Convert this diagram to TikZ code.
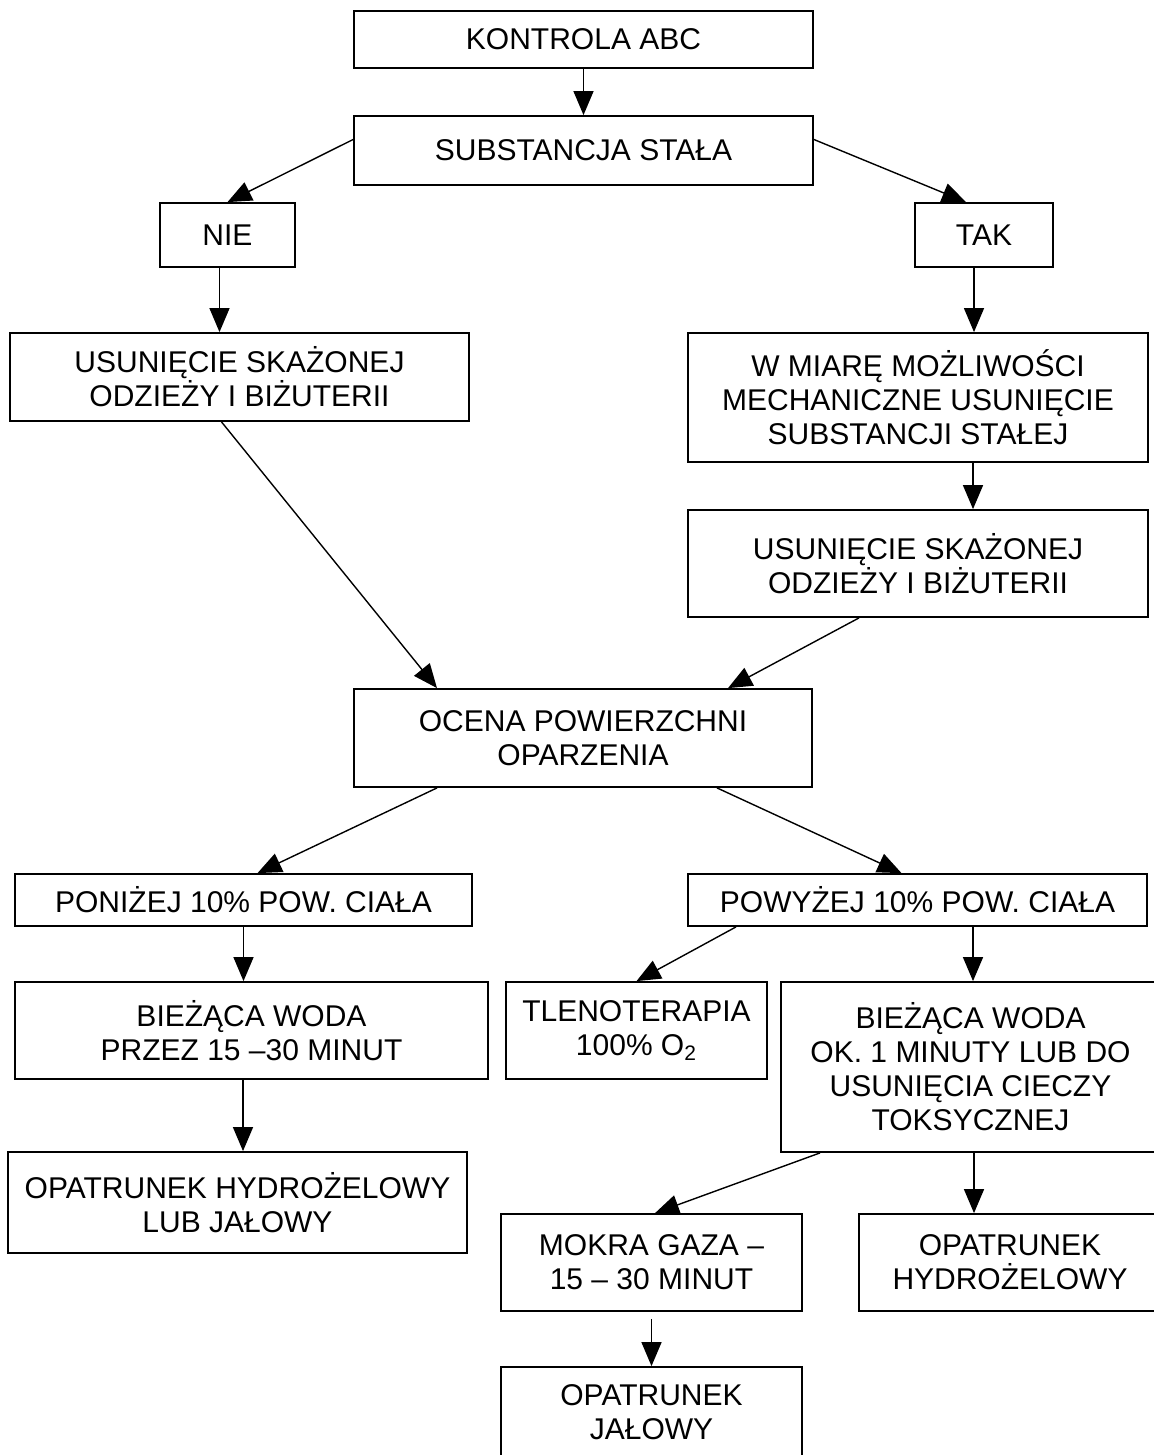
\documentclass[tikz,border=0pt]{standalone}
\usepackage{fontspec}
\setmainfont{Liberation Sans}
\usetikzlibrary{arrows.meta,calc}

\begin{document}
\begin{tikzpicture}[x=0.5pt, y=-0.5pt,
box/.style={rectangle, draw, line width=0.9pt, align=center, inner sep=2pt,
  font=\fontsize{15pt}{17pt}\selectfont},
arr/.style={line width=0.7pt, -{Triangle[length=12pt,width=10pt]}},
  %% every node/.style={box}
    ]
  \clip (0,0) rectangle (1154,1455);

  \node[box, minimum width=229.5pt, minimum height=28.5pt] (abc) at (583.5,39.5) {KONTROLA ABC};
  \node[box, minimum width=229.5pt, minimum height=34.5pt] (subst) at (583.5,150.5) {SUBSTANCJA STAŁA};
  \node[box, minimum width=67.5pt, minimum height=32pt] (nie) at (227.5,235) {NIE};
  \node[box, minimum width=69pt, minimum height=32pt] (tak) at (984,235) {TAK};
  \node[box, minimum width=229.5pt, minimum height=44pt] (usunL) at (239.5,377) {USUNIĘCIE SKAŻONEJ\\ODZIEŻY I BIŻUTERII};
  \node[box, minimum width=230pt, minimum height=64.5pt] (miara) at (918,397.5) {W MIARĘ MOŻLIWOŚCI\\MECHANICZNE USUNIĘCIE\\SUBSTANCJI STAŁEJ};
  \node[box, minimum width=230pt, minimum height=53.5pt] (usunR) at (918,563.5) {USUNIĘCIE SKAŻONEJ\\ODZIEŻY I BIŻUTERII};
  \node[box, minimum width=229pt, minimum height=49pt] (ocena) at (583,738) {OCENA POWIERZCHNI\\OPARZENIA};
  \node[box, minimum width=228.5pt, minimum height=26pt] (ponizej) at (243.5,900) {PONIŻEJ 10\% POW. CIAŁA};
  \node[box, minimum width=229.5pt, minimum height=26pt] (powyzej) at (917.5,900) {POWYŻEJ 10\% POW. CIAŁA};
  \node[box, minimum width=236.5pt, minimum height=48.5pt] (biezL) at (251.5,1030.5) {BIEŻĄCA WODA\\PRZEZ 15 –30 MINUT};
  \node[box, minimum width=130.5pt, minimum height=48.5pt] (tleno) at (636.5,1030.5) {TLENOTERAPIA\\100\% O\textsubscript{2}};
  \node[box, minimum width=189.5pt, minimum height=85pt] (biezR) at (970.5,1067) {BIEŻĄCA WODA\\OK. 1 MINUTY LUB DO\\USUNIĘCIA CIECZY\\TOKSYCZNEJ};
  \node[box, minimum width=229.5pt, minimum height=50.5pt] (opatrL) at (237.5,1202.5) {OPATRUNEK HYDROŻELOWY\\LUB JAŁOWY};
  \node[box, minimum width=150.5pt, minimum height=48.5pt] (mokra) at (651.5,1262.5) {MOKRA GAZA –\\15 – 30 MINUT};
  \node[box, minimum width=151pt, minimum height=48.5pt] (hydro) at (1010,1262.5) {OPATRUNEK\\HYDROŻELOWY};
  \node[box, minimum width=150.5pt, minimum height=45pt] (jalowy) at (651.5,1412) {OPATRUNEK\\JAŁOWY};

  % connectors
  \draw[arr] (abc.south) -- (subst.north);
  \draw[arr] ([yshift=5.5pt]subst.west) -- (nie.north);
  \draw[arr] ([yshift=5.5pt]subst.east) -- ([xshift=-9pt]tak.north);
  \draw[arr] ([xshift=-4pt]nie.south) -- ([xshift=-4pt]nie.south |- usunL.north);
  \draw[arr] ([xshift=-5pt]tak.south) -- ([xshift=-5pt]tak.south |- miara.north);
  \draw[arr] ([xshift=27.5pt]miara.south) -- ([xshift=27.5pt]miara.south |- usunR.north);
  \draw[arr] ([xshift=-9pt]usunL.south) -- ([xshift=-73pt]ocena.north);
  \draw[arr] ([xshift=-29.5pt]usunR.south) -- ([xshift=72.5pt]ocena.north);
  \draw[arr] ([xshift=-73pt]ocena.south) -- ([xshift=7pt]ponizej.north);
  \draw[arr] ([xshift=67pt]ocena.south) -- ([xshift=-8pt]powyzej.north);
  \draw[arr] (ponizej.south) -- (ponizej.south |- biezL.north);
  \draw[arr] ([xshift=-90.75pt]powyzej.south) -- (tleno.north);
  \draw[arr] ([xshift=27.75pt]powyzej.south) -- ([xshift=27.75pt]powyzej.south |- biezR.north);
  \draw[arr] ([xshift=-4.25pt]biezL.south) -- ([xshift=-4.25pt]biezL.south |- opatrL.north);
  \draw[arr] ([xshift=-75.25pt]biezR.south) -- ([xshift=1.75pt]mokra.north);
  \draw[arr] ([xshift=1.75pt]biezR.south) -- ([xshift=1.75pt]biezR.south |- hydro.north);
  \draw[arr] ([yshift=-3.5pt]mokra.south) -- (mokra.south |- jalowy.north);
\end{tikzpicture}
\end{document}
